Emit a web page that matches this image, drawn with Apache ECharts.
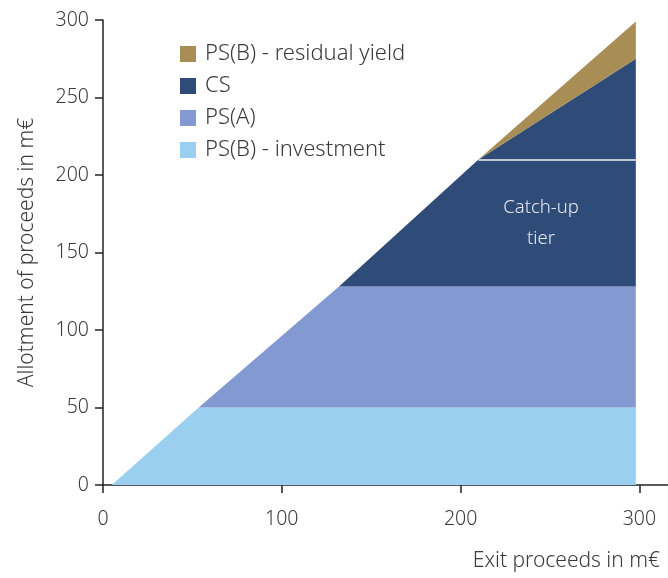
<!DOCTYPE html>
<html>
<head>
<meta charset="utf-8">
<script src="https://cdn.jsdelivr.net/npm/echarts@6/dist/echarts.min.js"></script>
<style>
  html, body { margin: 0; padding: 0; background: #fff; }
  #chart { width: 668px; height: 578px; }
</style>
</head>
<body>
<div id="chart"></div>
<script>
// exit proceeds (x) at the break points of the waterfall
const exitProceeds = [4.9, 53.5, 132, 210, 298];

// allotment per class at each break point (stacked bottom to top)
const psbInvestment = [0, 50, 50, 50, 50];
const psA = [0, 0, 78, 78, 78];
const cs = [0, 0, 0, 82, 147];
const psbResidual = [0, 0, 0, 0, 24];

const seriesNames = ['PS(B) - investment', 'PS(A)', 'CS', 'PS(B) - residual yield'];
const legendOrder = ['PS(B) - residual yield', 'CS', 'PS(A)', 'PS(B) - investment'];
const colors = ['#9bcff0', '#8399d2', '#2f4b78', '#a88d55'];

const xTicks = [0, 100, 200, 300];

// catch-up tier: separator level and label spot
const catchUpLevel = 210;
const catchUpLabelAt = [245, 169];

const FONT = "'Noto Sans', 'DejaVu Sans', sans-serif";
const TEXT = '#3a3a3a';

const chart = echarts.init(document.getElementById('chart'));

// value first so the stack runs on the allotment, not on the exit proceeds
function pairs(values) {
  return exitProceeds.map((x, i) => [values[i], x]);
}

const seriesValues = [psbInvestment, psA, cs, psbResidual];

const series = seriesValues.map((vals, i) => {
  const s = {
    name: seriesNames[i],
    type: 'line',
    stack: 'total',
    encode: { x: 1, y: 0 },
    symbol: 'none',
    silent: true,
    data: pairs(vals),
    lineStyle: { width: 0 },
    areaStyle: { color: colors[i], opacity: 1 },
    itemStyle: { color: colors[i] },
    animation: false
  };
  if (seriesNames[i] === 'CS') {
    s.markLine = {
      silent: true,
      symbol: 'none',
      label: { show: false },
      lineStyle: { color: '#f2f2f2', width: 1.5, type: 'solid' },
      data: [[
        { coord: [exitProceeds[3], catchUpLevel] },
        { coord: [exitProceeds[4], catchUpLevel] }
      ]],
      animation: false
    };
    s.markPoint = {
      silent: true,
      symbol: 'circle',
      symbolSize: 0,
      data: [{ coord: catchUpLabelAt }],
      label: {
        show: true,
        position: 'inside',
        formatter: 'Catch-up\ntier',
        color: '#e6ebf3',
        fontFamily: FONT,
        fontWeight: 300,
        fontSize: 18.5,
        lineHeight: 31,
        align: 'center'
      },
      animation: false
    };
  }
  return s;
});

const option = {
  animation: false,
  grid: { left: 103, right: 0, top: 20, bottom: 93 },
  legend: {
    data: legendOrder,
    orient: 'vertical',
    left: 175,
    top: 38,
    icon: 'rect',
    itemWidth: 16,
    itemHeight: 16,
    itemGap: 10,
    selectedMode: false,
    textStyle: {
      color: TEXT,
      fontFamily: FONT,
      fontWeight: 300,
      fontSize: 22,
      lineHeight: 21,
      padding: [0, 0, 0, 4]
    }
  },
  xAxis: {
    type: 'value',
    min: 0,
    max: 316,
    name: 'Exit proceeds in m€',
    nameLocation: 'end',
    nameGap: -8,
    nameTextStyle: {
      color: TEXT,
      fontFamily: FONT,
      fontWeight: 300,
      fontSize: 21,
      align: 'right',
      verticalAlign: 'top',
      padding: [66, 0, 0, 0]
    },
    axisLine: { show: true, lineStyle: { color: '#222', width: 1.5 } },
    axisTick: { show: true, length: 8, customValues: xTicks, lineStyle: { color: '#222', width: 1.5 } },
    axisLabel: {
      customValues: xTicks,
      margin: 24,
      color: TEXT,
      fontFamily: FONT,
      fontWeight: 300,
      fontSize: 19.5
    },
    splitLine: { show: false }
  },
  yAxis: {
    type: 'value',
    min: 0,
    max: 300,
    interval: 50,
    name: 'Allotment of proceeds in m€',
    nameLocation: 'middle',
    nameGap: 65,
    nameTextStyle: {
      color: TEXT,
      fontFamily: FONT,
      fontWeight: 300,
      fontSize: 21
    },
    axisLine: { show: true, lineStyle: { color: '#222', width: 1.5 } },
    axisTick: { show: true, length: 8, lineStyle: { color: '#222', width: 1.5 } },
    axisLabel: {
      margin: 14,
      color: TEXT,
      fontFamily: FONT,
      fontWeight: 300,
      fontSize: 19.5
    },
    splitLine: { show: false }
  },
  series: series
};

chart.setOption(option);
</script>
</body>
</html>
